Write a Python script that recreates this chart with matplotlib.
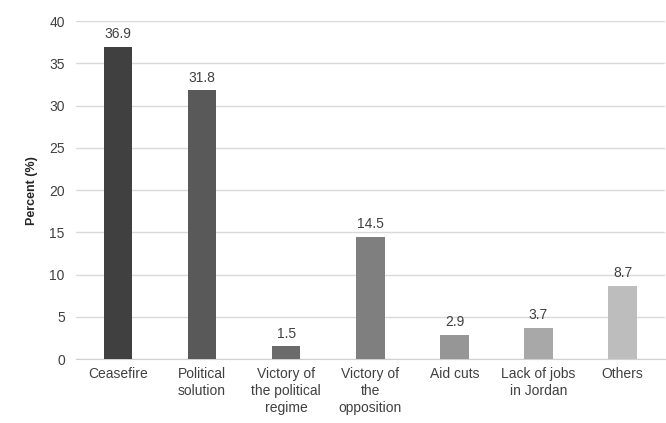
import matplotlib.pyplot as plt

categories = ["Ceasefire", "Political\nsolution", "Victory of\nthe political\nregime",
              "Victory of\nthe\nopposition", "Aid cuts", "Lack of jobs\nin Jordan", "Others"]
values = [36.9, 31.8, 1.5, 14.5, 2.9, 3.7, 8.7]
colors = ["#404040", "#595959", "#6b6b6b", "#7f7f7f", "#969696", "#a8a8a8", "#bdbdbd"]

plt.rcParams['font.family'] = ['Liberation Sans', 'DejaVu Sans']

fig = plt.figure(figsize=(6.66, 4.23), dpi=100)
ax = fig.add_axes([0.114, 0.151, 0.884, 0.799])

x = range(len(categories))
bars = ax.bar(x, values, width=0.34, color=colors, zorder=3)
for b, v in zip(bars, values):
    ax.text(b.get_x() + b.get_width() / 2, v + 0.7, f"{v}", ha="center", va="bottom",
            fontsize=10, color="#404040")

ax.set_ylim(0, 40)
ax.set_xlim(-0.5, len(categories) - 0.5)
ax.set_yticks(range(0, 41, 5))
ax.set_xticks(list(x))
ax.set_xticklabels(categories, fontsize=10, color="#404040", linespacing=1.25)
ax.tick_params(axis="y", labelsize=10, colors="#404040", length=0, pad=8)
ax.tick_params(axis="x", length=0, pad=6)
ax.yaxis.grid(True, color="#d9d9d9", linewidth=1, zorder=0)
for s in ["top", "right", "left"]:
    ax.spines[s].set_visible(False)
ax.spines["bottom"].set_color("#d0d0d0")
ax.set_ylabel("Percent (%)", fontsize=9, fontweight="bold", color="#262626", labelpad=8)

fig.savefig("out.png", dpi=100)
